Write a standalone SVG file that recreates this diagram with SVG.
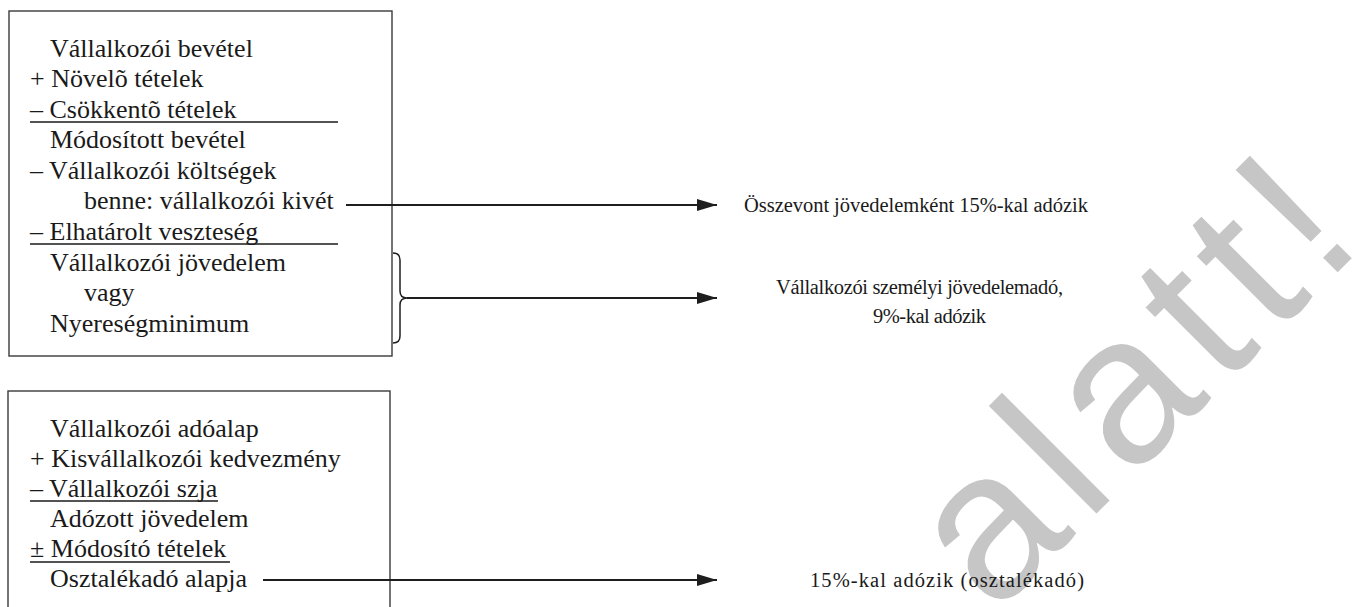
<svg xmlns="http://www.w3.org/2000/svg" width="1364" height="607" viewBox="0 0 1364 607">
  <defs>
    <style>
      .box { fill: none; stroke: #3a3a3a; stroke-width: 1.4; }
      .t { font-family: "Liberation Serif", "Times New Roman", serif; font-size: 26px; fill: #1a1a1a; }
      .r { font-family: "Liberation Serif", "Times New Roman", serif; font-size: 20.5px; fill: #1a1a1a; }
      .ul { stroke: #1a1a1a; stroke-width: 1.4; }
      .conn { fill: none; stroke: #1e1e1e; stroke-width: 2.2; }
      .brace { fill: none; stroke: #1e1e1e; stroke-width: 1.5; }
      .wm { font-family: "Liberation Sans", Arial, sans-serif; font-size: 210px; fill: #c6c6c6; }
    </style>
    <marker id="arrow" viewBox="0 0 20 12" refX="20" refY="6" markerWidth="20" markerHeight="12" markerUnits="userSpaceOnUse" orient="auto">
      <path d="M0,0 L20,6 L0,12 z" fill="#1e1e1e"/>
    </marker>
  </defs>

  <rect width="1364" height="607" fill="#ffffff"/>

  <!-- background stamp -->
  <text class="wm" transform="translate(994,616) rotate(-45)" letter-spacing="14">alatt!</text>

  <!-- income calculation box -->
  <g id="node-income">
    <rect class="box" x="9" y="11" width="383" height="345"/>
    <text class="t" x="50" y="57">Vállalkozói bevétel</text>
    <text class="t" x="30" y="87">+ Növelõ tételek</text>
    <text class="t" x="30" y="118">– Csökkentõ tételek</text>
    <line class="ul" x1="30" y1="122" x2="338" y2="122"/>
    <text class="t" x="50" y="148">Módosított bevétel</text>
    <text class="t" x="30" y="179">– Vállalkozói költségek</text>
    <text class="t" x="84" y="209">benne: vállalkozói kivét</text>
    <text class="t" x="30" y="240">– Elhatárolt veszteség</text>
    <line class="ul" x1="30" y1="244" x2="338" y2="244"/>
    <text class="t" x="50" y="271">Vállalkozói jövedelem</text>
    <text class="t" x="84" y="301">vagy</text>
    <text class="t" x="50" y="332">Nyereségminimum</text>
  </g>

  <!-- dividend base box (open at the bottom edge) -->
  <g id="node-dividend">
    <rect class="box" x="8" y="391" width="382" height="240"/>
    <text class="t" x="50" y="437">Vállalkozói adóalap</text>
    <text class="t" x="30" y="467">+ Kisvállalkozói kedvezmény</text>
    <text class="t" x="30" y="497">– Vállalkozói szja</text>
    <line class="ul" x1="30" y1="501" x2="218" y2="501"/>
    <text class="t" x="50" y="527">Adózott jövedelem</text>
    <text class="t" x="30" y="557">± Módosító tételek</text>
    <line class="ul" x1="30" y1="562" x2="230" y2="562"/>
    <text class="t" x="50" y="587">Osztalékadó alapja</text>
  </g>

  <!-- outcome labels -->
  <g id="node-combined">
    <text class="r" x="744" y="212" textLength="344">Összevont jövedelemként 15%-kal adózik</text>
  </g>
  <g id="node-ent-pit">
    <text class="r" x="776" y="294" textLength="287">Vállalkozói személyi jövedelemadó,</text>
    <text class="r" x="873" y="323" textLength="113">9%-kal adózik</text>
  </g>
  <g id="node-divtax">
    <text class="r" x="810" y="587" textLength="274">15%-kal adózik (osztalékadó)</text>
  </g>

  <!-- connectors -->
  <g id="connectors">
    <line class="conn" x1="346" y1="205" x2="717" y2="205" marker-end="url(#arrow)"/>
    <path class="brace" d="M393,253 Q400,253 400,260 L400,291 Q400,298 407,298 Q400,298 400,305 L400,336 Q400,343 393,343"/>
    <line class="conn" x1="407" y1="298" x2="717" y2="298" marker-end="url(#arrow)"/>
    <line class="conn" x1="263" y1="580" x2="717" y2="580" marker-end="url(#arrow)"/>
  </g>
</svg>
